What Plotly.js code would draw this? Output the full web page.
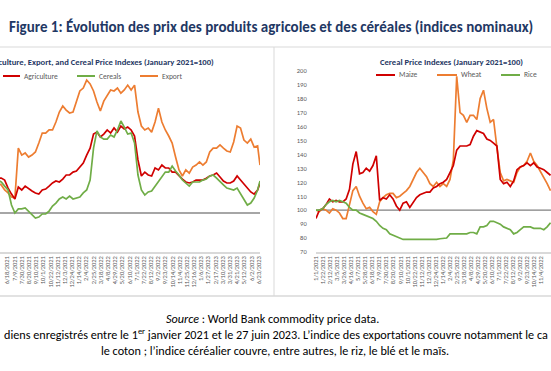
<!DOCTYPE html>
<html><head><meta charset="utf-8">
<script src="https://cdn.plot.ly/plotly-3.0.1.min.js"></script>
<style>html,body{margin:0;padding:0;background:#fff;overflow:hidden}#chart{width:551px;height:371px}</style>
</head><body><div id="chart"></div>
<script>
// ---- Left panel: Agriculture, Export, Cereal (visible part, 10-day samples from 2021-05-21, last = 2023-06-27)
const leftAgriculture = [117.9,117.9,116.9,112.8,109.7,107.2,113.3,111.8,113.8,112.3,
 111.3,110.3,109.7,111.8,112.3,113.8,115.4,116.4,115.9,117.4,
 119.5,119.5,121.0,121.5,123.6,125.6,129.7,133.3,140.5,141.5,
 139.0,140.5,142.6,141.0,143.6,141.5,144.6,143.1,144.1,142.6,
 139.5,127.2,119.0,121.0,119.5,119.0,123.1,122.1,124.6,123.1,
 123.1,121.0,121.0,119.0,117.4,115.9,115.4,115.9,116.9,116.9,
 116.9,117.9,119.0,119.5,120.5,118.5,116.4,115.4,115.4,116.4,
 119.0,116.9,114.9,112.8,110.8,109.7,111.8,115.4];
const leftCereals = [116.9,115.9,113.8,111.8,104.1,100.0,102.1,102.1,102.6,101.0,
 99.5,97.4,97.9,99.5,99.5,101.0,103.6,105.1,107.2,108.2,
 107.2,108.7,107.2,107.7,108.2,110.3,111.8,116.9,133.3,142.1,
 139.0,137.9,137.9,140.0,139.0,142.6,147.2,144.1,140.5,141.0,
 135.9,119.5,111.8,109.2,110.8,111.3,113.8,115.9,119.0,121.0,
 121.0,124.1,121.5,119.5,116.9,115.4,113.8,115.9,115.9,115.9,
 116.9,117.4,119.0,119.5,117.9,115.9,114.4,112.8,112.3,111.8,
 112.8,109.7,107.2,104.1,105.1,107.7,111.8,116.4];
const leftExport = [115.4,114.4,111.8,110.3,108.2,107.7,133.3,129.7,130.8,128.7,
 129.7,131.3,135.9,141.0,141.0,142.6,142.6,146.7,151.8,154.9,
 152.8,151.3,151.8,156.9,162.6,164.1,168.2,166.2,162.6,156.9,
 152.3,157.4,160.5,163.1,162.6,164.1,161.5,163.1,165.6,163.1,
 165.6,151.8,144.6,142.6,143.6,141.5,146.7,153.8,146.7,142.6,
 139.5,135.9,128.7,122.1,119.0,122.1,120.5,123.6,124.6,126.2,
 124.6,126.2,131.3,133.3,133.3,134.9,133.3,131.8,131.3,136.4,
 144.6,143.6,137.4,135.9,137.9,133.8,134.4,124.6];

// ---- Right panel: Maize, Wheat, Rice (10-day samples from 2021-01-01, visible part)
const rightMaize = [94,100,101,104,108,106,107,106,106,108,
 115,133,142,126,127,130,128,132,139,107,
 109,108,111,108,103,100,105,106,102,106,
 109,111,112,113,113,116,117,119,120,122,
 127,132,143,146,146,146,147,153,157,156,
 155,151,150,148,146,122,119,120,117,121,
 129,131,132,134,132,134,131,130,129,127,125];
const rightWheat = [100,99,101,100,98,101,100,98,94,94,
 104,114,117,110,105,101,102,99,97,106,
 109,111,112,112,109,110,112,114,117,122,
 127,130,127,124,119,117,120,117,119,117,
 122,136,196,170,168,163,168,168,165,180,
 186,173,163,165,145,127,121,122,121,120,
 127,131,132,135,141,135,132,128,124,119,114];
const rightRice = [100,100,101,104,106,107,106,107,106,105,
 102,100,100,98,97,96,95,94,92,89,
 87,86,83,82,81,80,79,79,79,79,
 79,78.5,79,79,79,79,79,79.5,79.5,80,
 83,83,83,83,83,83,84,84,83,88,
 88,89,92,92,91,90,88,87,86,83,
 84,86,88,88,88,87,87,87,86,88,91];

// ---- Tick labels (every 15 trading days)
const tickLabels = ["1/1/2021","1/22/2021","2/12/2021","3/5/2021","3/26/2021","4/16/2021","5/7/2021","5/28/2021",
 "6/18/2021","7/9/2021","7/30/2021","8/20/2021","9/10/2021","10/1/2021","10/22/2021","11/12/2021","12/3/2021",
 "12/24/2021","1/14/2022","2/4/2022","2/25/2022","3/18/2022","4/8/2022","4/29/2022","5/20/2022","6/10/2022",
 "7/1/2022","7/22/2022","8/12/2022","9/2/2022","9/23/2022","10/14/2022","11/4/2022","11/25/2022","12/16/2022",
 "1/6/2023","1/27/2023","2/17/2023","3/10/2023","3/31/2023","4/21/2023","5/12/2023","6/2/2023","6/23/2023"];
const rightYTicks = [70,80,90,100,110,120,130,140,150,160,170,180,190,200];

const T0 = Date.UTC(2021,0,1), DAY = 86400000;
const iso = ms => new Date(ms).toISOString().replace('T',' ').slice(0,19);
const dayISO = d => iso(T0 + d*DAY);
const leftDates = []; for (let d=140; d<=900; d+=10) leftDates.push(dayISO(d)); leftDates.push(dayISO(907));
const rightDates = []; for (let d=0; d<rightMaize.length*10; d+=10) rightDates.push(dayISO(d));
const tickISO = tickLabels.map(s => { const [m,d,y] = s.split('/'); return `${y}-${m.padStart(2,'0')}-${d.padStart(2,'0')}`; });

const RED = '#D00000', GREEN = '#70AD47', ORANGE = '#ED7D31', NAVY = '#1F3864', GRAY = '#595959';
const FONT = 'Carlito, "Liberation Sans Narrow", "Liberation Sans", Arial, sans-serif';
const H = 371, W = 551;
const py = p => 1 - p/H, px = p => p/W;

const ln = (x, y, name, color, xa, ya) => ({x, y, name, type:'scatter', mode:'lines', xaxis:xa, yaxis:ya,
  line:{color, width:1.7}, hoverinfo:'skip'});
const data = [
  ln(leftDates, leftExport, 'Export', ORANGE, 'x', 'y'),
  ln(leftDates, leftAgriculture, 'Agriculture', RED, 'x', 'y'),
  ln(leftDates, leftCereals, 'Cereals', GREEN, 'x', 'y'),
  ln(rightDates, rightWheat, 'Wheat', ORANGE, 'x2', 'y2'),
  ln(rightDates, rightMaize, 'Maize', RED, 'x2', 'y2'),
  ln(rightDates, rightRice, 'Rice', GREEN, 'x2', 'y2')
];

const xCommon = {type:'date', tickmode:'array', tickvals:tickISO, ticktext:tickLabels, tickangle:-90,
  tickfont:{family:FONT, size:6.5, color:GRAY}, showgrid:false, zeroline:false, showline:true,
  linecolor:'#D9D9D9', linewidth:1.5, ticks:'', fixedrange:true};
const yDomain = [py(252), py(70.7)];

const legend = (items, y) => {
  const shapes = [], anns = [];
  items.forEach(([x0, x1, color, text]) => {
    shapes.push({type:'line', xref:'paper', yref:'paper', x0:px(x0), x1:px(x1), y0:py(y), y1:py(y), line:{color, width:2}});
    anns.push({xref:'paper', yref:'paper', x:px(x1+2), y:py(y), xanchor:'left', yanchor:'middle', showarrow:false,
      text, font:{family:FONT, size:7.5, color:GRAY}});
  });
  return {shapes, anns};
};
const legL = legend([[3,20,RED,'Agriculture'],[77,95,GREEN,'Cereals'],[140,158,ORANGE,'Export']], 76);
const legR = legend([[376,395,RED,'Maize'],[437,457,ORANGE,'Wheat'],[501,520,GREEN,'Rice']], 75);

const frame = '#D9D9D9';
const shapes = [
  {type:'line', xref:'paper', yref:'paper', x0:0, x1:1, y0:py(47), y1:py(47), line:{color:frame, width:1}},
  {type:'line', xref:'paper', yref:'paper', x0:px(274), x1:px(274), y0:py(47), y1:py(296), line:{color:frame, width:1}},
  {type:'line', xref:'paper', yref:'paper', x0:0, x1:1, y0:py(296), y1:py(296), line:{color:frame, width:1.5}},
  {type:'line', xref:'x domain', yref:'y', x0:0, x1:1, y0:100, y1:100, line:{color:'#A6A6A6', width:2}, layer:'below'},
  {type:'line', xref:'x2 domain', yref:'y2', x0:0, x1:1, y0:100, y1:100, line:{color:'#808080', width:1.2}, layer:'below'},
  ...legL.shapes, ...legR.shapes
];

const annotations = [
  {xref:'paper', yref:'paper', x:px(271), y:py(27), xanchor:'center', yanchor:'middle', showarrow:false,
   text:'<b>Figure 1: Évolution des prix des produits agricoles et des céréales (indices nominaux)</b>',
   font:{family:FONT, size:15, color:NAVY}},
  {xref:'paper', yref:'paper', x:px(216), y:py(62), xanchor:'right', yanchor:'middle', showarrow:false,
   text:'<b>Agriculture, Export, and Cereal Price Indexes (January 2021=100)</b>', font:{family:FONT, size:8.6, color:NAVY}},
  {xref:'paper', yref:'paper', x:px(451), y:py(62), xanchor:'center', yanchor:'middle', showarrow:false,
   text:'<b>Cereal Price Indexes (January 2021=100)</b>', font:{family:FONT, size:8.6, color:NAVY}},
  {xref:'paper', yref:'paper', x:px(272), y:py(318), xanchor:'center', yanchor:'middle', showarrow:false,
   text:'<i>Source</i> : World Bank commodity price data.', font:{family:FONT, size:12.2, color:'#000'}},
  {xref:'paper', yref:'paper', x:px(275.5), y:py(334), xanchor:'center', yanchor:'middle', showarrow:false,
   text:'diens enregistrés entre le 1<sup>er</sup> janvier 2021 et le 27 juin 2023. L’indice des exportations couvre notamment le ca',
   font:{family:FONT, size:12.2, color:'#000'}},
  {xref:'paper', yref:'paper', x:px(275), y:py(350), xanchor:'center', yanchor:'middle', showarrow:false,
   text:'le coton ; l’indice céréalier couvre, entre autres, le riz, le blé et le maïs.',
   font:{family:FONT, size:12.2, color:'#000'}},
  ...legL.anns, ...legR.anns
];

const layout = {
  width:W, height:H, margin:{l:0,r:0,t:0,b:0}, paper_bgcolor:'#fff', plot_bgcolor:'rgba(0,0,0,0)',
  showlegend:false, font:{family:FONT},
  xaxis: Object.assign({}, xCommon, {domain:[0, px(260)], range:[dayISO(146.4), dayISO(907)]}),
  yaxis: {domain:yDomain, range:[80, 173], visible:false, fixedrange:true},
  xaxis2: Object.assign({}, xCommon, {domain:[px(316), 1], range:[dayISO(0), dayISO(701.5)], anchor:'y2'}),
  yaxis2: {domain:yDomain, range:[70, 200], anchor:'x2', tickmode:'array', tickvals:rightYTicks,
    tickfont:{family:FONT, size:6.5, color:GRAY}, showgrid:false, zeroline:false, showline:false,
    ticks:'outside', ticklen:7, tickcolor:'rgba(0,0,0,0)', fixedrange:true},
  shapes, annotations
};
Plotly.newPlot('chart', data, layout, {staticPlot:true, displayModeBar:false});
</script></body></html>
